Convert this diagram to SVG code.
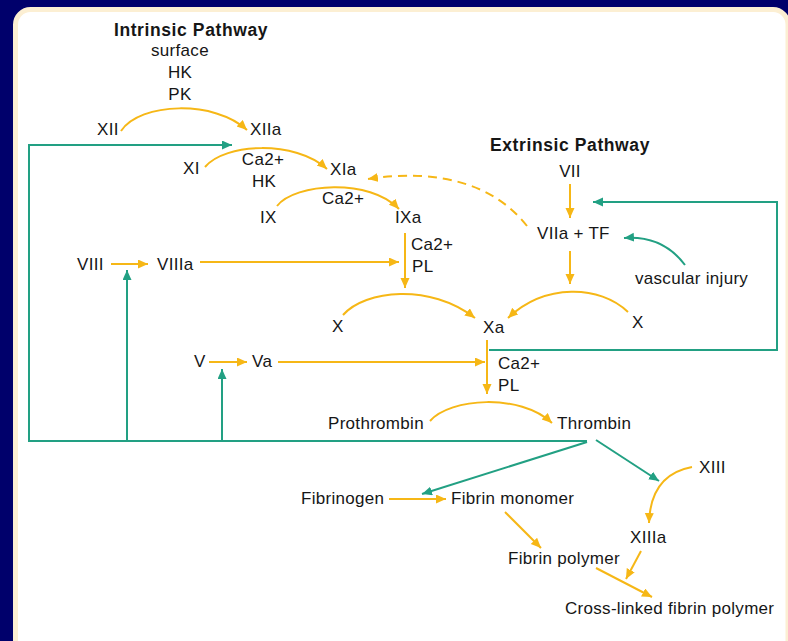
<svg xmlns="http://www.w3.org/2000/svg" width="788" height="641" viewBox="0 0 788 641">
<defs>
<style>
.t{font-family:"Liberation Sans",Arial,sans-serif;font-size:17px;letter-spacing:0.3px;fill:#161616}
.b{font-weight:bold;font-size:17.5px;letter-spacing:0.6px}
.m{text-anchor:middle}
.y{fill:none;stroke:#f6b716;stroke-width:2}
.g{fill:none;stroke:#22a083;stroke-width:2}
.d{stroke-dasharray:9 6}
</style>
<marker id="ay" markerUnits="userSpaceOnUse" markerWidth="11" markerHeight="10" refX="10" refY="4.5" orient="auto">
<path d="M0,0 L10,4.5 L0,9 z" fill="#f6b716"/>
</marker>
<marker id="ag" markerUnits="userSpaceOnUse" markerWidth="11" markerHeight="10" refX="10" refY="4.5" orient="auto">
<path d="M0,0 L10,4.5 L0,9 z" fill="#22a083"/>
</marker>
</defs>
<rect x="0" y="0" width="788" height="641" fill="#00006b"/>
<rect x="15.5" y="9.5" width="772.5" height="660" rx="15" fill="#ffffff" stroke="#fcefd3" stroke-width="5"/>

<g id="connectors">
<path class="y" marker-end="url(#ay)" d="M121,131 C140,102 215,100 247,130"/>
<path class="y" marker-end="url(#ay)" d="M205,167 C225,143 295,140 327,169"/>
<path class="y" marker-end="url(#ay)" d="M277,206 C295,183 370,178 399,209"/>
<path class="y d" marker-end="url(#ay)" d="M527,226 C495,185 440,168 368,179"/>
<path class="y" marker-end="url(#ay)" d="M405,233 V288"/>
<path class="y" marker-end="url(#ay)" d="M111,264 H148"/>
<path class="y" marker-end="url(#ay)" d="M200,262 H399"/>
<path class="y" marker-end="url(#ay)" d="M343,315 C365,290 430,283 475,318"/>
<path class="y" marker-end="url(#ay)" d="M628,312 C600,285 545,283 508,318"/>
<path class="y" marker-end="url(#ay)" d="M570,184 V218"/>
<path class="y" marker-end="url(#ay)" d="M570,251 V284"/>
<path class="g" marker-end="url(#ag)" d="M685,265 C670,245 650,236 624,238"/>
<path class="g" marker-end="url(#ag)" d="M489,350 H777 V202 H593"/>
<path class="y" marker-end="url(#ay)" d="M487,340 V394"/>
<path class="y" marker-end="url(#ay)" d="M209,362 H247"/>
<path class="y" marker-end="url(#ay)" d="M278,362 H485"/>
<path class="y" marker-end="url(#ay)" d="M430,421 C450,398 520,393 552,423"/>
<path class="g" marker-end="url(#ag)" d="M587,441 H29 V145 H232"/>
<path class="g" marker-end="url(#ag)" d="M127,441 V270"/>
<path class="g" marker-end="url(#ag)" d="M222,441 V369"/>
<path class="g" marker-end="url(#ag)" d="M587,442 L422,494"/>
<path class="g" marker-end="url(#ag)" d="M596,440 L659,481"/>
<path class="y" marker-end="url(#ay)" d="M692,467 C665,472 650,490 649,523"/>
<path class="y" marker-end="url(#ay)" d="M389,499 H446"/>
<path class="y" marker-end="url(#ay)" d="M505,512 L541,548"/>
<path class="y" marker-end="url(#ay)" d="M641,551 L626,579"/>
<path class="y" marker-end="url(#ay)" d="M596,568 L652,597"/>
</g>

<g id="intrinsic-title"><text class="t b m" x="191" y="36">Intrinsic Pathway</text></g>
<g id="cofactors-xii"><text class="t m" x="180" y="56">surface</text><text class="t m" x="180" y="78">HK</text><text class="t m" x="180" y="100">PK</text></g>
<g id="XII"><text class="t" x="97" y="135">XII</text></g>
<g id="XIIa"><text class="t" x="250" y="135">XIIa</text></g>
<g id="XI"><text class="t" x="183" y="174">XI</text></g>
<g id="cofactors-xi"><text class="t m" x="263" y="165">Ca2+</text><text class="t m" x="264" y="187">HK</text></g>
<g id="XIa"><text class="t" x="330" y="175">XIa</text></g>
<g id="cofactors-ix"><text class="t" x="322" y="204">Ca2+</text></g>
<g id="IX"><text class="t" x="260" y="223">IX</text></g>
<g id="IXa"><text class="t" x="395" y="223">IXa</text></g>
<g id="cofactors-x1"><text class="t" x="411" y="250">Ca2+</text><text class="t" x="412" y="272">PL</text></g>
<g id="VIII"><text class="t" x="77" y="270">VIII</text></g>
<g id="VIIIa"><text class="t" x="157" y="270">VIIIa</text></g>
<g id="X-left"><text class="t" x="332" y="332">X</text></g>
<g id="Xa"><text class="t" x="483" y="333">Xa</text></g>
<g id="X-right"><text class="t" x="632" y="328">X</text></g>
<g id="extrinsic-title"><text class="t b m" x="570" y="151">Extrinsic Pathway</text></g>
<g id="VII"><text class="t m" x="570" y="177">VII</text></g>
<g id="VIIa-TF"><text class="t" x="537" y="239">VIIa + TF</text></g>
<g id="vascular-injury"><text class="t" x="635" y="284">vascular injury</text></g>
<g id="V"><text class="t" x="194" y="367">V</text></g>
<g id="Va"><text class="t" x="252" y="367">Va</text></g>
<g id="cofactors-ii"><text class="t" x="498" y="369">Ca2+</text><text class="t" x="498" y="391">PL</text></g>
<g id="Prothrombin"><text class="t" x="328" y="429">Prothrombin</text></g>
<g id="Thrombin"><text class="t" x="557" y="429">Thrombin</text></g>
<g id="XIII"><text class="t" x="699" y="473">XIII</text></g>
<g id="Fibrinogen"><text class="t" x="301" y="504">Fibrinogen</text></g>
<g id="Fibrin-monomer"><text class="t" x="451" y="504">Fibrin monomer</text></g>
<g id="XIIIa"><text class="t" x="630" y="543">XIIIa</text></g>
<g id="Fibrin-polymer"><text class="t" x="508" y="564">Fibrin polymer</text></g>
<g id="Cross-linked"><text class="t" x="565" y="614">Cross-linked fibrin polymer</text></g>
</svg>
